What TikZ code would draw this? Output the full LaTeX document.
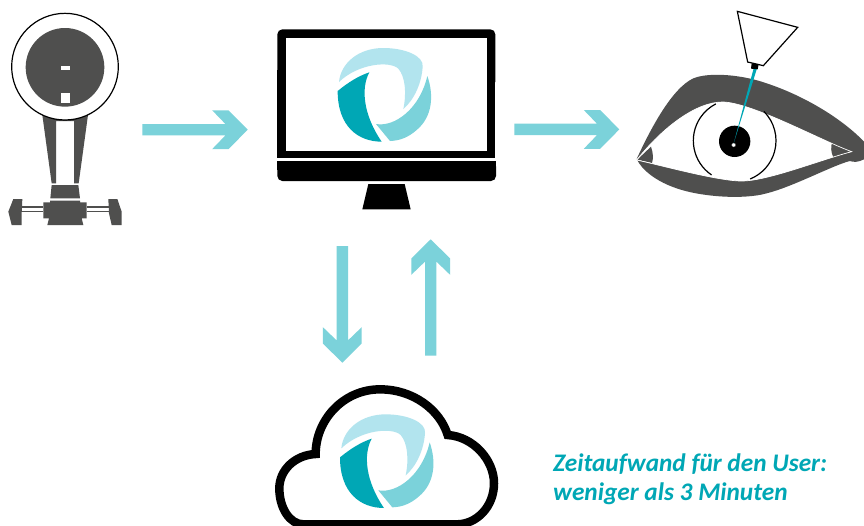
\documentclass[tikz,border=0pt]{standalone}
\usepackage{fontspec}
\setmainfont{Carlito}
\usetikzlibrary{calc}
\definecolor{arrowc}{HTML}{7BD2DA}
\definecolor{logolight}{HTML}{B2E4EE}
\definecolor{logodark}{HTML}{00A7B5}
\definecolor{grayd}{HTML}{4F4F4E}
\tikzset{
  blockarrow/.style={fill=arrowc,draw=none,to path={
    ($(\tikztostart)!5.7pt!90:(\tikztotarget)$)
    -- ($(\tikztotarget)!22.3pt!(\tikztostart)!5.7pt!90:(\tikztotarget)$)
    -- ($(\tikztotarget)!35.5pt!(\tikztostart)!19.4pt!90:(\tikztotarget)$)
    -- ($(\tikztotarget)!19.2pt!(\tikztostart)!19.4pt!90:(\tikztotarget)$)
    -- (\tikztotarget)
    -- ($(\tikztotarget)!19.2pt!(\tikztostart)!19.4pt!-90:(\tikztotarget)$)
    -- ($(\tikztotarget)!35.5pt!(\tikztostart)!19.4pt!-90:(\tikztotarget)$)
    -- ($(\tikztotarget)!22.3pt!(\tikztostart)!5.7pt!-90:(\tikztotarget)$)
    -- ($(\tikztostart)!5.7pt!-90:(\tikztotarget)$)
    -- cycle}},
  darkpart/.style={fill=grayd,draw=none},
  blackpart/.style={fill=black,draw=none},
  outline/.style={draw=black,line width=1.2pt},
  caption/.style={font=\bfseries\itshape\fontsize{25.3}{28.6}\selectfont,text=logodark,align=left,anchor=north west,inner sep=0pt}
}
\newcommand{\logoshapes}{%
  \fill[logolight] (207,186) .. controls (212,130) and (265,84) .. (340,84)
     .. controls (405,84) and (462,108) .. (458,140)
     .. controls (455,190) and (432,240) .. (400,267)
     .. controls (410,220) and (406,170) .. (385,146)
     .. controls (360,122) and (265,130) .. (207,186) -- cycle;
  \fill[logodark] (203,213) .. controls (235,187) and (265,168) .. (298,157)
     .. controls (272,205) and (280,285) .. (335,365)
     .. controls (265,365) and (203,320) .. (203,213) -- cycle;
  \fill[arrowc] (472,168) .. controls (492,225) and (488,290) .. (440,330)
     .. controls (415,352) and (390,362) .. (360,363)
     -- (318,312)
     .. controls (375,322) and (450,265) .. (472,168) -- cycle;
}
\newcommand{\almondpath}{(50,480) .. controls (130,380) and (230,305) .. (310,306)
     .. controls (400,310) and (600,420) .. (695,455)
     .. controls (600,480) and (450,540) .. (370,543)
     .. controls (300,545) and (120,495) .. (50,480) -- cycle}
\begin{document}
\begin{tikzpicture}[x=1pt,y=-1pt]
\clip (0,0) rectangle (864,525);
\fill[white] (0,0) rectangle (864,525);

% instrument
\begin{scope}[scale=1/3]
  \fill[darkpart] (127,345) -- (264,345) -- (236,550) -- (222,550) -- (222,363) -- (168,363) -- (168,550) -- (155,550) -- cycle;
  \filldraw[outline,fill=white] (195,200) circle[radius=160];
  \fill[darkpart] (195,202) circle[radius=118];
  \fill[white] (183,197) rectangle (210,210);
  \fill[white] (183,279) rectangle (210,310);
  \fill[darkpart] (155,555) -- (235,555) -- (240,595) -- (151,595) -- cycle;
  \fill[darkpart] (150,602) -- (240,602) -- (240,607) -- (260,607) -- (260,655) -- (245,655) -- (250,675) -- (142,675) -- (147,655) -- (130,655) -- (130,607) -- (150,607) -- cycle;
  \fill[darkpart] (60,618) rectangle (130,623);
  \fill[darkpart] (60,632) rectangle (130,637);
  \fill[darkpart] (260,618) rectangle (330,623);
  \fill[darkpart] (260,632) rectangle (330,637);
  \fill[darkpart] (40,597) -- (67,597) -- (65,640) -- (65,675) -- (35,675) -- (25,635) -- cycle;
  \fill[darkpart] (325,597) -- (352,597) -- (365,635) -- (365,675) -- (335,675) -- (327,640) -- cycle;
\end{scope}

% monitor
\begin{scope}[shift={(270,20)},scale=1/3]
  \fill[blackpart,rounded corners=5pt] (22,200) -- (22,28) -- (676,28) -- (676,200) -- cycle;
  \fill[blackpart] (22,150) rectangle (676,415);
  \fill[white] (49,55) rectangle (651,394);
  \fill[blackpart,rounded corners=5pt] (22,424) -- (22,483) -- (678,483) -- (678,424) -- cycle;
  \fill[blackpart] (22,424) rectangle (678,450);
  \fill[blackpart] (295,492) -- (404,492) -- (422,568) -- (277,568) -- cycle;
  \logoshapes
\end{scope}

% eye
\begin{scope}[shift={(620,0)},scale=1/3]
  \fill[darkpart] (50,477) .. controls (90,390) and (155,265) .. (220,235)
     .. controls (270,215) and (370,225) .. (440,250)
     .. controls (560,290) and (670,360) .. (732,425)
     -- (732,478) .. controls (715,487) and (700,487) .. (690,483)
     .. controls (640,495) and (520,560) .. (440,580)
     .. controls (370,600) and (240,590) .. (170,565)
     .. controls (110,545) and (65,510) .. (50,477) -- cycle;
  \fill[white] \almondpath;
  \fill[darkpart] (52,479) -- (93,440) .. controls (100,460) and (100,475) .. (96,489) -- cycle;
  \fill[darkpart] (637,425) -- (693,455) -- (640,472) .. controls (632,455) and (632,440) .. (637,425) -- cycle;
  \draw[white,line width=.7pt] \almondpath;
  \draw[black,line width=1.2pt] (344,422) ++(-45:124) arc[start angle=-45,end angle=68,radius=124];
  \draw[black,line width=1.2pt] (344,422) ++(124:124) arc[start angle=124,end angle=243,radius=124];
  \fill[black] (344,424) circle[radius=47];
  \filldraw[fill=white,draw=grayd,line width=.3pt] (341,435) circle[radius=6];
  \fill[logodark] (341,430) -- (401,205) -- (411,205) -- cycle;
  \filldraw[outline,fill=white] (352,34) -- (533,82) -- (430,197) -- (383,186) -- cycle;
  \fill[black] (395,190) -- (416,193) -- (413,208) -- (393,206) -- cycle;
\end{scope}

% cloud
\begin{scope}[shift={(270,380)},scale=1/3]
  \draw[black,line width=8.5pt,fill=white] (100,433) .. controls (60,433) and (28,385) .. (28,325)
     .. controls (28,270) and (75,225) .. (137,222)
     .. controls (137,120) and (220,28) .. (330,28)
     .. controls (430,28) and (510,90) .. (533,165)
     .. controls (610,170) and (672,240) .. (672,310)
     .. controls (672,380) and (620,433) .. (560,433) -- cycle;
\end{scope}
\begin{scope}[shift={(272.33,386.33)},scale=1/3]
  \logoshapes
\end{scope}

% connectors
\coordinate (instOut) at (142.3,129.7);
\coordinate (monIn) at (247.7,129.7);
\coordinate (monOut) at (514.3,129.4);
\coordinate (eyeIn) at (619.3,129.4);
\coordinate (downS) at (342.3,246);
\coordinate (downT) at (342.3,362.7);
\coordinate (upS) at (430.7,355.7);
\coordinate (upT) at (430.7,239.3);
\path[blockarrow] (instOut) to (monIn);
\path[blockarrow] (monOut) to (eyeIn);
\path[blockarrow] (downS) to (downT);
\path[blockarrow] (upS) to (upT);

\node[caption] (note) at (553,453.5) {Zeitaufwand für den User:\\weniger als 3 Minuten};
\end{tikzpicture}
\end{document}
